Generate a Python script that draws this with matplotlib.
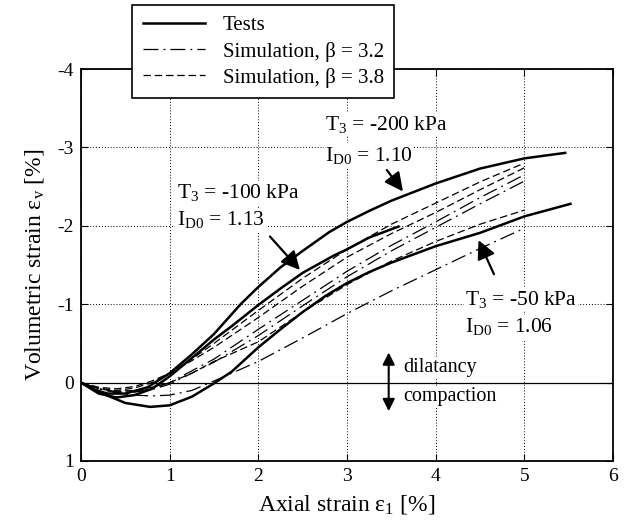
import numpy as np
import matplotlib
matplotlib.use('Agg')
import matplotlib.pyplot as plt

plt.rcParams['font.family'] = ['Liberation Serif', 'DejaVu Serif']
plt.rcParams['mathtext.fontset'] = 'custom'
plt.rcParams['mathtext.rm'] = 'Liberation Serif'
plt.rcParams['mathtext.it'] = 'Liberation Serif'
plt.rcParams['axes.unicode_minus'] = False
plt.rcParams['font.size'] = 14

# measured curves: axial strain [%] vs volumetric strain [%]
# tests (solid)
x_t200 = [0, 0.15, 0.3, 0.5, 0.75, 1.0, 1.25, 1.5, 1.8, 2.0, 2.25, 2.5, 2.8, 3.0,
          3.25, 3.5, 3.75, 4.0, 4.5, 5.0, 5.46]
y_t200 = [0, 0.09, 0.14, 0.14, 0.06, -0.12, -0.36, -0.62, -1.0, -1.22, -1.47, -1.68,
          -1.92, -2.05, -2.19, -2.32, -2.43, -2.54, -2.73, -2.86, -2.93]
x_t100 = [0, 0.2, 0.4, 0.6, 0.8, 1.0, 1.3, 1.5, 1.7, 2.0, 2.25, 2.5, 2.85, 3.0, 3.25, 3.58]
y_t100 = [0, 0.14, 0.19, 0.16, 0.08, -0.08, -0.36, -0.55, -0.72, -0.99, -1.2, -1.4,
          -1.62, -1.7, -1.85, -1.99]
x_t50 = [0, 0.2, 0.5, 0.78, 1.0, 1.25, 1.5, 1.7, 2.0, 2.25, 2.5, 2.75, 3.0, 3.25,
         3.5, 4.0, 4.5, 5.0, 5.52]
y_t50 = [0, 0.12, 0.26, 0.31, 0.29, 0.18, 0.01, -0.14, -0.45, -0.68, -0.9, -1.1,
         -1.27, -1.41, -1.53, -1.74, -1.91, -2.12, -2.28]

# simulations
x_sim = [0, 0.2, 0.4, 0.6, 0.8, 1.0, 1.25, 1.5, 2.0, 2.5, 3.0, 3.5, 4.0, 4.5, 5.0]
y_s200_38 = [0, 0.07, 0.1, 0.07, 0.0, -0.12, -0.3, -0.5, -0.92, -1.33, -1.7, -2.02,
             -2.29, -2.56, -2.8]
y_s200_32 = [0, 0.08, 0.12, 0.12, 0.08, 0.0, -0.15, -0.3, -0.68, -1.05, -1.42, -1.75,
             -2.05, -2.36, -2.65]
y_s100_38 = [0, 0.06, 0.08, 0.05, -0.02, -0.12, -0.28, -0.45, -0.83, -1.23, -1.6, -1.9,
             -2.17, -2.46, -2.74]
y_s100_32 = [0, 0.08, 0.12, 0.12, 0.09, 0.02, -0.12, -0.26, -0.6, -0.98, -1.35, -1.68,
             -1.98, -2.28, -2.57]
y_s50_38 = [0, 0.08, 0.11, 0.1, 0.06, 0.0, -0.12, -0.27, -0.52, -0.9, -1.25, -1.55,
            -1.8, -2.02, -2.2]
y_s50_32 = [0, 0.08, 0.13, 0.16, 0.17, 0.16, 0.1, -0.02, -0.27, -0.57, -0.88, -1.17,
            -1.44, -1.71, -1.97]

fig = plt.figure(figsize=(6.29, 5.26), dpi=100)
ax = fig.add_axes([0.1288, 0.1236, 0.8458, 0.7452])

dashed = (0, (6, 3))
dashdot = (0, (12, 4, 1.5, 4))
lw_s = 0.9

for y in [y_s200_32, y_s100_32, y_s50_32]:
    ax.plot(x_sim, y, color='k', lw=lw_s, linestyle=dashdot)
for y in [y_s200_38, y_s100_38, y_s50_38]:
    ax.plot(x_sim, y, color='k', lw=lw_s, linestyle=dashed)

ax.plot(x_t200, y_t200, 'k-', lw=1.8)
ax.plot(x_t100, y_t100, 'k-', lw=1.8)
ax.plot(x_t50, y_t50, 'k-', lw=1.8)

ax.axhline(0, color='k', lw=0.9)

ax.set_xlim(0, 6)
ax.set_ylim(1, -4)
ax.set_xticks([0, 1, 2, 3, 4, 5, 6])
ax.set_yticks([-4, -3, -2, -1, 0, 1])
ax.grid(True, color='k', linestyle=(0, (1, 2)), lw=0.7)
ax.tick_params(direction='in', length=5, top=True, right=True, labelsize=14, pad=5)
for s in ax.spines.values():
    s.set_linewidth(1.3)

ax.set_xlabel(r'Axial strain $\mathregular{ε_1}$ [%]', fontsize=17, labelpad=6)
ax.set_ylabel(r'Volumetric strain $\mathregular{ε_v}$ [%]', fontsize=17, labelpad=8)

box = dict(facecolor='white', edgecolor='none', pad=1)
fs = 15.5
ax.text(2.75, -3.29, r'$\mathregular{T_3}$ = -200 kPa', fontsize=fs, va='center', bbox=box)
ax.text(2.75, -2.90, r'$\mathregular{I_{D0}}$ = 1.10', fontsize=fs, va='center', bbox=box)
ax.annotate('', xy=(3.65, -2.41), xytext=(3.43, -2.74),
            arrowprops=dict(arrowstyle='-|>', color='k', lw=1.6, mutation_scale=28))

ax.text(1.08, -2.42, r'$\mathregular{T_3}$ = -100 kPa', fontsize=fs, va='center', bbox=box)
ax.text(1.08, -2.08, r'$\mathregular{I_{D0}}$ = 1.13', fontsize=fs, va='center', bbox=box)
ax.annotate('', xy=(2.49, -1.41), xytext=(2.11, -1.89),
            arrowprops=dict(arrowstyle='-|>', color='k', lw=1.6, mutation_scale=28))

ax.text(4.33, -1.06, r'$\mathregular{T_3}$ = -50 kPa', fontsize=fs, va='center', bbox=box)
ax.text(4.33, -0.71, r'$\mathregular{I_{D0}}$ = 1.06', fontsize=fs, va='center', bbox=box)
ax.annotate('', xy=(4.47, -1.85), xytext=(4.67, -1.35),
            arrowprops=dict(arrowstyle='-|>', color='k', lw=1.6, mutation_scale=28))

ax.annotate('', xy=(3.47, -0.42), xytext=(3.47, 0.40),
            arrowprops=dict(arrowstyle='<|-|>', color='k', lw=1.5, mutation_scale=18))
ax.text(3.63, -0.19, 'dilatancy', fontsize=14.5, va='center', bbox=box)
ax.text(3.63, 0.18, 'compaction', fontsize=14.5, va='center', bbox=box)

handles = [plt.Line2D([], [], color='k', lw=1.8),
           plt.Line2D([], [], color='k', lw=lw_s, linestyle=dashdot),
           plt.Line2D([], [], color='k', lw=lw_s, linestyle=dashed)]
labels = ['Tests', 'Simulation, β = 3.2', 'Simulation, β = 3.8']
leg = ax.legend(handles, labels, loc='upper left', bbox_to_anchor=(0.21, 0.99),
                bbox_transform=fig.transFigure, fancybox=False, edgecolor='k',
                framealpha=1, fontsize=15, handlelength=3.0, handletextpad=0.85,
                labelspacing=0.3, borderpad=0.5, borderaxespad=0)
leg.get_frame().set_linewidth(1.2)
leg.set_zorder(10)

fig.savefig('out.png', dpi=100)
